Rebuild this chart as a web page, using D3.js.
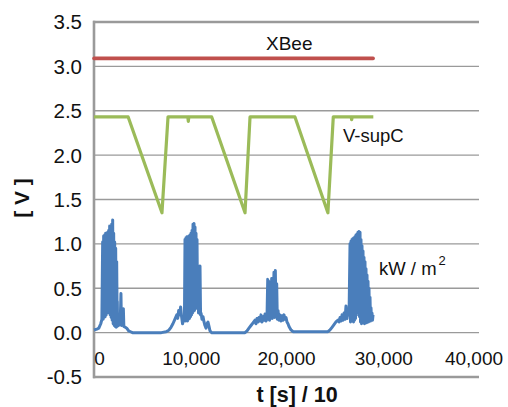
<!DOCTYPE html>
<html>
<head>
<meta charset="utf-8">
<script src="https://cdn.jsdelivr.net/npm/d3@7"></script>
<style>
  html, body { margin: 0; padding: 0; background: #fff; }
  svg { display: block; font-family: "Liberation Sans", Arial, sans-serif; }
</style>
</head>
<body>
<svg id="chart" width="508" height="407"></svg>
<script>
// ---- data ----
const xTicks = [0, 10000, 20000, 30000, 40000];
const xTickLabels = ["0", "10,000", "20,000", "30,000", "40,000"];
const yTicks = [-0.5, 0.0, 0.5, 1.0, 1.5, 2.0, 2.5, 3.0, 3.5];
const yTickLabels = ["-0.5", "0.0", "0.5", "1.0", "1.5", "2.0", "2.5", "3.0", "3.5"];

// XBee supply voltage [V]
const xbeeT = [0, 7000, 14000, 21000, 29000];
const xbeeV = [3.09, 3.09, 3.09, 3.09, 3.09];

// Supercapacitor voltage [V]
const supT = [0, 3550, 7060, 7690, 9750, 9800, 9850, 12230, 15690, 16210, 20880, 24300, 24860, 26720, 26770, 26820, 29020];
const supV = [2.43, 2.43, 1.35, 2.43, 2.43, 2.38, 2.43, 2.43, 1.35, 2.43, 2.43, 1.35, 2.43, 2.43, 2.40, 2.43, 2.43];

// Irradiance [kW/m^2]
const irrT = [
  0, 300, 500, 700, 820,
  900, 952, 1004, 1056, 1108, 1160, 1212, 1264, 1316, 1368, 1420, 1472, 1524, 1576, 1628, 1680,
  1732, 1784, 1836, 1888, 1940, 1992, 2044, 2096, 2148, 2200, 2252, 2304, 2356, 2408, 2420,
  2450, 2550, 2650, 2720, 2800, 2850, 2950, 3050, 3100, 3250, 3400, 3600, 3800, 4000, 7000,
  7500, 7800, 8000, 8200, 8400, 8600, 8700, 8800, 8900, 9000, 9100, 9200, 9300, 9400,
  9455, 9507, 9559, 9611, 9663, 9715, 9767, 9819, 9871, 9923, 9975, 10027, 10079, 10131,
  10183, 10235, 10287, 10339, 10391, 10443, 10495, 10547, 10599, 10651, 10703, 10755, 10807, 10859,
  10910, 11013, 11070, 11120, 11220, 11325, 11430, 11530, 11640, 11740, 11845, 11950, 12050, 12210, 15690,
  15900, 16100, 16310, 16520, 16730, 16830, 16935, 17040, 17140, 17250, 17350, 17455, 17560, 17660,
  17770, 17870, 17975, 18050, 18100, 18150, 18235, 18340, 18460, 18520, 18600, 18700, 18765, 18840,
  18910, 18980, 19045, 19120, 19220, 19325, 19430, 19530, 19640, 19740, 19845, 19950, 20050, 20155,
  20260, 20365, 20470, 20675, 20880, 24310,
  24520, 24730, 24935, 25140, 25350, 25460, 25560, 25665, 25770, 25870, 25975, 26080, 26180, 26290, 26390, 26500,
  26600, 26652, 26700, 26752, 26805, 26857, 26910, 26962, 27015, 27067, 27120, 27172, 27220, 27272,
  27325, 27377, 27430, 27482, 27535, 27587, 27640, 27692, 27740, 27792, 27845, 27897, 27950, 28002,
  28050, 28102, 28155, 28207, 28260, 28312, 28365, 28417, 28470, 28522, 28570, 28622, 28675, 28727,
  28780, 28832, 28885, 28937, 28990
];
const irrV = [
  0.03, 0.04, 0.05, 0.10, 0.15,
  1.02, 0.15, 1.09, 0.17, 1.10, 0.18, 1.12, 0.20, 1.12, 0.22, 1.13, 0.24, 1.15, 0.22, 1.20, 0.20,
  1.18, 0.17, 1.22, 0.14, 1.27, 0.10, 1.12, 0.08, 1.02, 0.07, 0.95, 0.06, 0.80, 0.07, 0.35,
  0.10, 0.08, 0.12, 0.10, 0.44, 0.08, 0.10, 0.27, 0.07, 0.06, 0.05, 0.02, 0.01, 0.00, 0.00,
  0.01, 0.03, 0.06, 0.10, 0.15, 0.20, 0.16, 0.25, 0.20, 0.29, 0.18, 0.10, 0.14, 0.20,
  1.05, 0.13, 1.07, 0.14, 1.08, 0.13, 1.06, 0.15, 1.09, 0.16, 1.10, 0.18, 1.12, 0.20,
  1.15, 0.22, 1.22, 0.24, 1.23, 0.25, 1.19, 0.27, 1.12, 0.28, 1.05, 0.30, 0.62, 0.22,
  0.25, 0.75, 0.20, 0.22, 0.15, 0.18, 0.12, 0.08, 0.05, 0.10, 0.12, 0.07, 0.02, 0.00, 0.00,
  0.02, 0.05, 0.08, 0.11, 0.14, 0.10, 0.16, 0.12, 0.17, 0.13, 0.20, 0.12, 0.18, 0.14,
  0.21, 0.13, 0.17, 0.60, 0.15, 0.58, 0.14, 0.20, 0.61, 0.16, 0.30, 0.68, 0.17, 0.70,
  0.20, 0.55, 0.15, 0.25, 0.14, 0.20, 0.13, 0.19, 0.14, 0.20, 0.15, 0.17, 0.12, 0.10,
  0.07, 0.05, 0.03, 0.01, 0.01, 0.01,
  0.03, 0.06, 0.09, 0.12, 0.14, 0.12, 0.17, 0.13, 0.20, 0.14, 0.22, 0.15, 0.30, 0.16, 0.24, 0.20,
  1.00, 0.12, 1.03, 0.13, 1.05, 0.14, 1.06, 0.12, 1.07, 0.14, 1.08, 0.16, 1.10, 0.20,
  1.11, 0.24, 1.13, 0.22, 1.14, 0.18, 1.13, 0.12, 1.05, 0.10, 0.98, 0.11, 0.92, 0.12,
  0.85, 0.10, 0.80, 0.13, 0.72, 0.11, 0.65, 0.14, 0.58, 0.12, 0.50, 0.15, 0.40, 0.13,
  0.28, 0.15, 0.22, 0.14, 0.20
];

const seriesLabels = ["XBee", "V-supC", "kW / m"];
const xTitle = "t [s] / 10";
const yTitle = "[ V ]";

(function draw() {
  const svg = d3.select("#chart");
  const mLeft = 94, mRight = 479, mTop = 22, mBottom = 377;
  const x = d3.scaleLinear().domain([0, 40000]).range([mLeft, mRight]);
  const y = d3.scaleLinear().domain([-0.5, 3.5]).range([mBottom, mTop]);

  const gridColor = "#9a9a9a";

  // gridlines
  svg.append("g")
    .selectAll("line")
    .data(yTicks.filter(v => v > -0.5 && v < 3.5))
    .join("line")
    .attr("x1", mLeft).attr("x2", mRight)
    .attr("y1", d => y(d)).attr("y2", d => y(d))
    .attr("stroke", gridColor).attr("stroke-width", 1.3);

  // plot borders (top, left, bottom)
  svg.append("line").attr("x1", mLeft - 1).attr("x2", mRight).attr("y1", y(3.5)).attr("y2", y(3.5))
    .attr("stroke", gridColor).attr("stroke-width", 2.6);
  svg.append("line").attr("x1", mLeft - 1).attr("x2", mRight).attr("y1", y(-0.5)).attr("y2", y(-0.5))
    .attr("stroke", gridColor).attr("stroke-width", 2.6);
  svg.append("line").attr("x1", mLeft).attr("x2", mLeft).attr("y1", y(3.5) - 1.3).attr("y2", y(-0.5) + 1.3)
    .attr("stroke", gridColor).attr("stroke-width", 2.6);

  // y tick labels
  svg.append("g")
    .selectAll("text")
    .data(yTicks)
    .join("text")
    .attr("x", 82)
    .attr("y", d => y(d))
    .attr("dy", "0.36em")
    .attr("text-anchor", "end")
    .attr("font-size", 20.5)
    .attr("fill", "#111")
    .text((d, i) => yTickLabels[i]);

  // x tick labels (sitting below the zero line)
  const xOffsets = [5.5, 1, 0, 1, -5];
  svg.append("g")
    .selectAll("text")
    .data(xTicks)
    .join("text")
    .attr("x", (d, i) => x(d) + xOffsets[i])
    .attr("y", y(0) + 32)
    .attr("text-anchor", "middle")
    .attr("font-size", 19)
    .attr("fill", "#111")
    .text((d, i) => xTickLabels[i]);

  // lines
  const line = d3.line().x(d => x(d[0])).y(d => y(d[1]));
  const zip = (a, b) => a.map((t, i) => [t, b[i]]);

  svg.append("path")
    .attr("d", line(zip(irrT, irrV)))
    .attr("fill", "none").attr("stroke", "#4a7ebb").attr("stroke-width", 3)
    .attr("stroke-linejoin", "round");

  svg.append("path")
    .attr("d", line(zip(supT, supV)))
    .attr("fill", "none").attr("stroke", "#9bbb59").attr("stroke-width", 3.2)
    .attr("stroke-linejoin", "round");

  svg.append("path")
    .attr("d", line(zip(xbeeT, xbeeV)))
    .attr("fill", "none").attr("stroke", "#c0504d").attr("stroke-width", 3.6)
    .attr("stroke-linecap", "round");

  // series labels
  svg.append("text").attr("x", 266).attr("y", 50).attr("font-size", 19).attr("fill", "#111").text(seriesLabels[0]);
  svg.append("text").attr("x", 343).attr("y", 142).attr("font-size", 18.5).attr("fill", "#111").text(seriesLabels[1]);
  const kw = svg.append("text").attr("x", 379).attr("y", 275).attr("font-size", 18.5).attr("fill", "#111");
  kw.append("tspan").text(seriesLabels[2]);
  kw.append("tspan").attr("dx", 2).attr("dy", -10).attr("font-size", 13).text("2");

  // axis titles
  svg.append("text")
    .attr("x", 297).attr("y", 402)
    .attr("text-anchor", "middle")
    .attr("font-size", 21.5).attr("font-weight", "bold").attr("fill", "#111")
    .text(xTitle);

  svg.append("text")
    .attr("transform", "translate(29,198) rotate(-90)")
    .attr("text-anchor", "middle")
    .attr("font-size", 21).attr("font-weight", "bold").attr("fill", "#111")
    .text(yTitle);
})();
</script>
</body>
</html>
